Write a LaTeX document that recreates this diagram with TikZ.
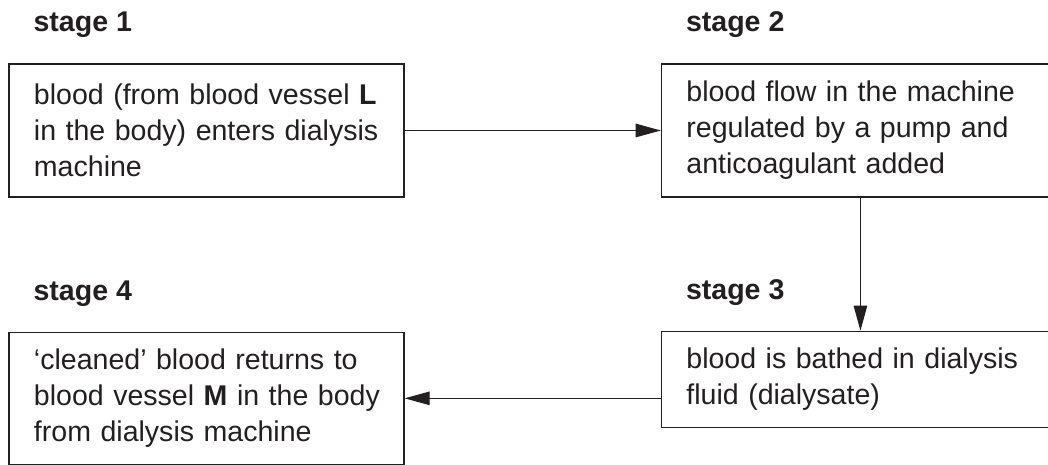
\documentclass[tikz,border=0pt]{standalone}
\usepackage{fontspec}
\setmainfont{Liberation Sans}
\usepackage{xcolor}
\usetikzlibrary{positioning,arrows.meta}

\definecolor{ink}{RGB}{35,31,32}

\begin{document}
\begin{tikzpicture}[x=0.025cm,y=-0.025cm,
  every node/.style={text=ink},
  stagebox/.style={rectangle,draw=ink,line width=0.9pt,align=left,
    inner xsep=0.625cm,inner ysep=0pt,
    font=\fontsize{20.3}{25.6}\selectfont},
  stagename/.style={anchor=base west,inner sep=0pt,
    font=\fontsize{20.3}{25.6}\selectfont\bfseries},
  flow/.style={draw=ink,line width=0.75pt,-{Triangle[length=17.8pt,width=9.6pt]}}]
  \useasboundingbox (0,0) rectangle (1048,465);

  \node[stagebox,text width=8.625cm,minimum height=3.325cm] (b1) at (206.5,130.5)
    {blood (from blood vessel \textbf{L}\\in the body) enters dialysis\\machine};
  \node[stagebox,text width=8.7cm,minimum height=3.325cm,right=6.4cm of b1] (b2)
    {blood flow in the machine\\regulated by a pump and\\anticoagulant added};
  \node[stagebox,text width=8.7cm,minimum height=2.4cm,below=3.325cm of b2] (b3)
    {blood is bathed in dialysis\\fluid (dialysate)};
  \node[stagebox,text width=8.625cm,minimum height=3.3cm,below=3.35cm of b1] (b4)
    {‘cleaned’ blood returns to\\\mbox{blood vessel \textbf{M} in the body}\\from dialysis machine};

  \node[stagename] (s1) at ([xshift=0.625cm,yshift=0.79cm] b1.north west) {stage 1};
  \node[stagename] (s2) at ([xshift=0.625cm,yshift=0.79cm] b2.north west) {stage 2};
  \node[stagename] (s3) at ([xshift=0.625cm,yshift=0.78cm] b3.north west) {stage 3};
  \node[stagename] (s4) at ([xshift=0.625cm,yshift=0.78cm] b4.north west) {stage 4};

  \draw[flow] (b1) -- (b2);
  \draw[flow] (b2) -- (b3);
  \draw[flow] (b3.west |- b4.east) -- (b4.east);
\end{tikzpicture}
\end{document}
